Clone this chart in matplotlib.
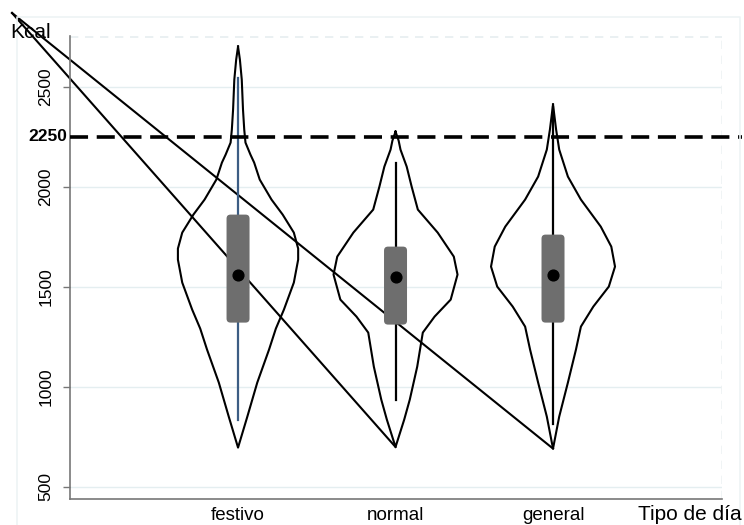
import numpy as np
import matplotlib.pyplot as plt
from matplotlib.patches import FancyBboxPatch
from matplotlib.lines import Line2D

plt.rcParams['font.family'] = ['Liberation Sans', 'DejaVu Sans']

# categories
dias = ['festivo', 'normal', 'general']

# violin outlines: kcal values and relative half-width (density)
festivo_kcal = [2700, 2635, 2535, 2385, 2285, 2220, 2160, 2120, 2035, 1935, 1860, 1770, 1690, 1635, 1520,
                1385, 1290, 1185, 1020, 850, 695]
festivo_dens = [0, .03, .06, .08, .10, .12, .20, .26, .35, .54, .72, .90, .97, .97, .90,
                .74, .61, .50, .31, .15, 0]
normal_kcal = [2275, 2230, 2185, 2100, 2000, 1885, 1770, 1650, 1560, 1435, 1350, 1270, 1100, 935, 835, 698]
normal_dens = [0, .05, .08, .18, .26, .36, .68, .94, 1.0, .89, .63, .44, .35, .23, .14, 0]
general_kcal = [2410, 2285, 2185, 2050, 1935, 1800, 1700, 1600, 1500, 1400, 1300, 1185, 1020, 850, 690]
general_dens = [0, .05, .10, .24, .45, .77, .94, 1.0, .90, .65, .45, .37, .24, .10, 0]

# box plot summary: q1, median, q3, whisker low, whisker high
q1 = [1320, 1310, 1320]
mediana = [1560, 1550, 1560]
q3 = [1860, 1700, 1760]
bigote_bajo = [835, 935, 815]
bigote_alto = [2545, 2120, 2400]

referencia = 2250
# stray lines from the top-left corner to the lower ends of two violins
linea_inicio = (-0.435, 2868)

fig = plt.figure(figsize=(7.44, 5.25), dpi=100)
ax = fig.add_axes([70 / 744, 1 - 499 / 525, 652 / 744, 463 / 525])
ax.set_xlim(-0.067, 4.073)
ax.set_ylim(438, 2753)

# faint outer frame (graph region)
fig.add_artist(Line2D([17 / 744, 17 / 744, 740 / 744, 740 / 744],
                      [0, 1 - 17 / 525, 1 - 17 / 525, 0],
                      transform=fig.transFigure, color='#edf3f5', lw=1.2))

# grid
for g in [500, 1000, 1500, 2000, 2500]:
    ax.axhline(g, color='#e4eef0', lw=1, zorder=0)
ax.axhline(2750, color='#e6eef0', lw=1.2, ls=(0, (5, 4)), zorder=0)
ax.axvline(4.073, color='#eef2f3', lw=1.2, ls=(0, (5, 4)), zorder=0)

violines = [(festivo_kcal, festivo_dens), (normal_kcal, normal_dens), (general_kcal, general_dens)]
ancho = 62 / 157.5
for i, (kcal, dens) in enumerate(violines):
    xc = i + 1
    k = np.array(kcal)
    d = np.array(dens) * ancho
    xs = np.concatenate([xc - d, (xc + d)[::-1]])
    ys = np.concatenate([k, k[::-1]])
    ax.plot(xs, ys, color='black', lw=1.5, zorder=2, solid_joinstyle='round')

# stray lines
for i in [1, 2]:
    ax.plot([linea_inicio[0], i + 1], [linea_inicio[1], violines[i][0][-1]],
            color='black', lw=1.5, clip_on=False, zorder=2)

# whiskers, boxes, medians
bigote_color = ['#3c5d84', 'black', 'black']
fig.canvas.draw()
bb = ax.get_window_extent()
px_x = bb.width / (ax.get_xlim()[1] - ax.get_xlim()[0])
px_y = bb.height / (ax.get_ylim()[1] - ax.get_ylim()[0])
caja_w = 23 / px_x
for i in range(3):
    xc = i + 1
    ax.plot([xc, xc], [bigote_bajo[i], bigote_alto[i]], color=bigote_color[i], lw=1.6, zorder=3)
    caja = FancyBboxPatch((xc - caja_w / 2, q1[i]), caja_w, q3[i] - q1[i],
                          boxstyle='round,pad=0,rounding_size=%f' % (4 / px_x),
                          mutation_aspect=px_x / px_y,
                          facecolor='#6e6e6e', edgecolor='none', zorder=4)
    ax.add_patch(caja)
    ax.scatter([xc], [mediana[i]], s=60, color='black', zorder=5)

# reference line
ax.plot([-0.067, 4.2], [referencia, referencia], color='black', lw=2.6,
        ls=(0, (5, 2.4)), clip_on=False, zorder=6)
ax.text(-3 / 652, referencia, str(referencia), transform=ax.get_yaxis_transform(),
        ha='right', va='center', fontsize=12.5, fontweight='bold')

# axes styling
for s in ['top', 'right']:
    ax.spines[s].set_visible(False)
ax.spines['left'].set_color('#777777')
ax.spines['bottom'].set_color('#777777')
ax.spines['left'].set_linewidth(1.2)
ax.spines['bottom'].set_linewidth(1.2)

ax.set_yticks([500, 1000, 1500, 2000, 2500])
ax.set_yticklabels(['500', '1000', '1500', '2000', '2500'], rotation=90, va='center', fontsize=12.5)
ax.tick_params(axis='y', length=5, width=1, color='#777777', pad=7)
ax.set_xticks([1, 2, 3])
ax.set_xticklabels(dias, fontsize=13.5)
ax.tick_params(axis='x', length=0, pad=6)

fig.text(10 / 744, 1 - 33 / 525, 'Kcal', ha='left', va='center', fontsize=15)
fig.text(742 / 744, 1 - 514 / 525, 'Tipo de día', ha='right', va='center', fontsize=15)

fig.savefig('out.png', dpi=100)
